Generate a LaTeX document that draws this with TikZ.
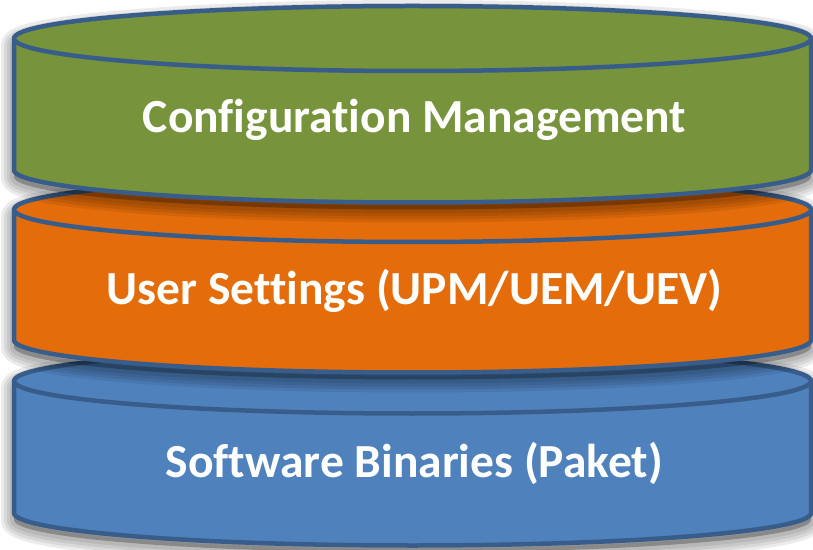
\documentclass[tikz,border=0pt]{standalone}
\usepackage{fontspec}
\setmainfont[Ligatures=NoCommon]{Carlito}
\definecolor{cgreen}{HTML}{77933C}
\definecolor{corange}{HTML}{E46C0A}
\definecolor{cblue}{HTML}{4F81BD}
\definecolor{cline}{HTML}{385D8A}
\tikzset{
  lbl/.style={text=white, font=\bfseries\fontsize{47.5}{56}\selectfont, anchor=base, inner sep=0pt},
  cylline/.style={draw=cline, line width=4.5pt, line join=round},
}
\begin{document}
\begin{tikzpicture}[x=1pt,y=1pt]
\useasboundingbox (0,0) rectangle (813,549);
\foreach \t/\b/\col in {168/36/cblue, 339.5/209/corange, 510.5/379/cgreen}{
  % soft shadow
  \begin{scope}[shift={(0,-7)}]
    \fill[black, opacity=0.25] (14,\t) arc[start angle=180,end angle=0,x radius=398.5,y radius=32.5]
      -- (811,\b) arc[start angle=0,end angle=-180,x radius=398.5,y radius=32.5] -- cycle;
    \foreach \w in {26,20,14,8}{
      \draw[black, opacity=0.08, line width=\w pt, line join=round] (14,\t) arc[start angle=180,end angle=0,x radius=398.5,y radius=32.5]
        -- (811,\b) arc[start angle=0,end angle=-180,x radius=398.5,y radius=32.5] -- cycle;
    }
  \end{scope}
  % body
  \fill[\col] (14,\t) arc[start angle=180,end angle=0,x radius=398.5,y radius=32.5]
      -- (811,\b) arc[start angle=0,end angle=-180,x radius=398.5,y radius=32.5] -- cycle;
  \draw[cylline] (14,\t) -- (14,\b) arc[start angle=180,end angle=360,x radius=398.5,y radius=32.5] -- (811,\t);
  \draw[cylline, fill=\col] (412.5,\t) ellipse [x radius=398.5, y radius=32.5];
}
\node[lbl] (cm) at (414.5,416) {Configuration Management};
\node[lbl] (us) at (414.5,244) {User Settings (UPM/UEM/UEV)};
\node[lbl] (sb) at (414.5,72) {Software Binaries (Paket)};
\end{tikzpicture}
\end{document}
